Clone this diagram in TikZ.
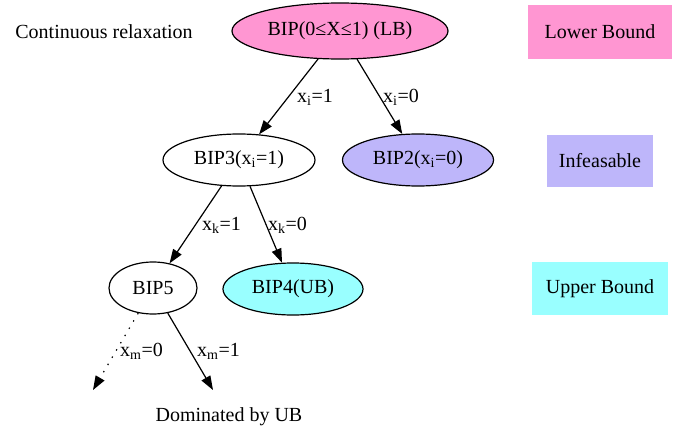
\documentclass[tikz,border=0pt]{standalone}
\usepackage{fontspec}
\setmainfont{Liberation Serif}
\usetikzlibrary{arrows.meta,shapes.geometric}
\definecolor{lbpink}{RGB}{255,150,210}
\definecolor{infblue}{RGB}{190,182,250}
\definecolor{ubcyan}{RGB}{153,255,255}
\tikzset{
  bnode/.style={ellipse,draw=black,line width=1.2pt,inner sep=0pt,font=\fontsize{20}{24}\selectfont},
  legend/.style={rectangle,inner sep=0pt,font=\fontsize{20}{24}\selectfont},
  plain/.style={inner sep=0pt,font=\fontsize{20}{24}\selectfont},
  elabel/.style={inner sep=0pt,anchor=west,font=\fontsize{20}{24}\selectfont},
  conn/.style={line width=1.2pt,-{Triangle[length=14pt,width=10pt]}},
}
\begin{document}
\begin{tikzpicture}[x=1pt,y=-1pt]
\useasboundingbox (0,0) rectangle (678,428);
\node[plain] (cr) at (104,32) {Continuous relaxation};
\node[bnode,fill=lbpink,minimum width=216pt,minimum height=56pt] (root) at (340,31) {BIP(0≤X≤1) (LB)};
\node[bnode,fill=white,minimum width=152pt,minimum height=52pt] (b3) at (239,160) {BIP3(x\textsubscript{i}=1)};
\node[bnode,fill=infblue,minimum width=151pt,minimum height=52pt] (b2) at (418,160) {BIP2(x\textsubscript{i}=0)};
\node[bnode,fill=white,minimum width=88pt,minimum height=52pt] (b5) at (153,288) {BIP5};
\node[bnode,fill=ubcyan,minimum width=140pt,minimum height=52pt] (b4) at (293,289) {BIP4(UB)};
\node[legend,fill=lbpink,minimum width=144pt,minimum height=54pt] (lb) at (600,32) {Lower Bound};
\node[legend,fill=infblue,minimum width=106pt,minimum height=52pt] (inf) at (600,161) {Infeasable};
\node[legend,fill=ubcyan,minimum width=136pt,minimum height=53pt] (ub) at (600,288.5) {Upper Bound};
\node[plain] (dom) at (229,417) {Dominated by UB};
\coordinate (e0) at (93,390);
\coordinate (e1) at (213,390);
\draw[conn] (root) -- (b3);
\draw[conn] (root) -- (b2);
\draw[conn] (b3) -- (b5);
\draw[conn] (b3) -- (b4);
\draw[conn,dash pattern=on 1.4pt off 7pt] (b5) -- (e0);
\draw[conn] (b5) -- (e1);
\node[elabel] (l1) at (297,97) {x\textsubscript{i}=1};
\node[elabel] (l2) at (383,97) {x\textsubscript{i}=0};
\node[elabel] (l3) at (202,225) {x\textsubscript{k}=1};
\node[elabel] (l4) at (268,225) {x\textsubscript{k}=0};
\node[elabel] (l5) at (120,351) {x\textsubscript{m}=0};
\node[elabel] (l6) at (197,351) {x\textsubscript{m}=1};
\end{tikzpicture}
\end{document}
